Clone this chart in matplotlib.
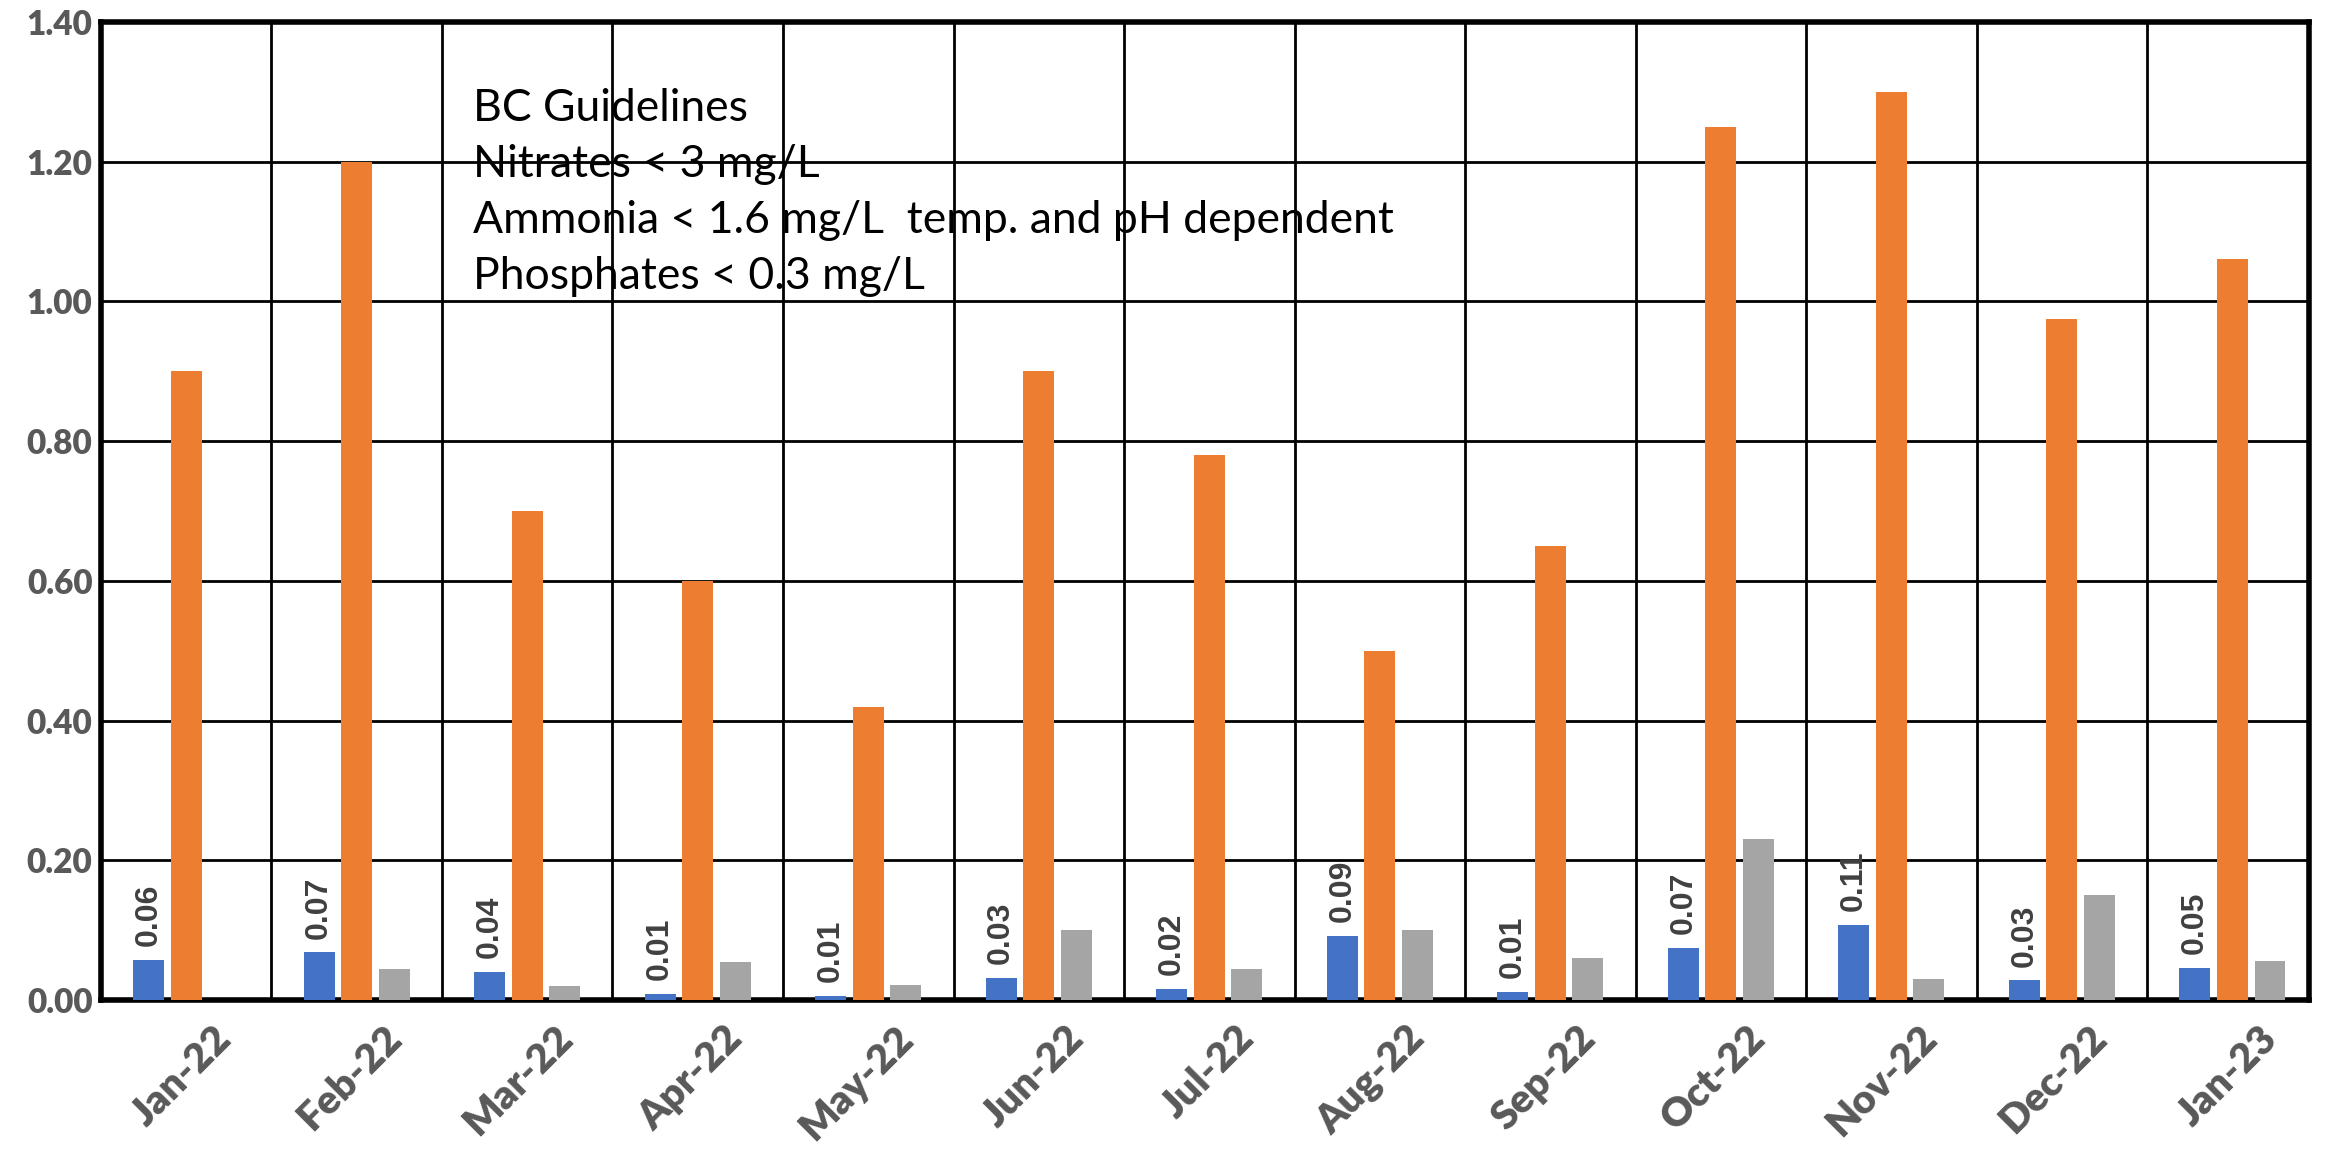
import numpy as np
import matplotlib.pyplot as plt
import matplotlib.transforms as mtrans
from matplotlib.ticker import MultipleLocator, FormatStrFormatter

months = ['Jan-22', 'Feb-22', 'Mar-22', 'Apr-22', 'May-22', 'Jun-22', 'Jul-22',
          'Aug-22', 'Sep-22', 'Oct-22', 'Nov-22', 'Dec-22', 'Jan-23']
nitrates = [0.057, 0.068, 0.040, 0.009, 0.006, 0.032, 0.016, 0.092, 0.012, 0.074, 0.107, 0.028, 0.046]
ammonia = [0.90, 1.20, 0.70, 0.60, 0.42, 0.90, 0.78, 0.50, 0.65, 1.25, 1.30, 0.975, 1.06]
phosphates = [0.0, 0.045, 0.020, 0.055, 0.022, 0.100, 0.045, 0.100, 0.060, 0.230, 0.030, 0.150, 0.056]

guidelines = ('BC Guidelines\n'
              'Nitrates < 3 mg/L\n'
              'Ammonia < 1.6 mg/L  temp. and pH dependent\n'
              'Phosphates < 0.3 mg/L')

fig = plt.figure(figsize=(23.31, 11.49), dpi=100)
ax = fig.add_axes([0.0433, 0.1297, 0.9473, 0.8512])

x = np.arange(len(months))
w = 0.18
off = 0.22
b1 = ax.bar(x - off, nitrates, w, color='#4472C4', zorder=3)
ax.bar(x, ammonia, w, color='#ED7D31', zorder=3)
ax.bar(x + off, phosphates, w, color='#A5A5A5', zorder=3)

ax.bar_label(b1, fmt='%.2f', rotation=90, padding=10, fontsize=23,
             fontweight='bold', color='#404040', family='Liberation Sans')

ax.set_ylim(0, 1.40)
ax.set_xlim(-0.5, 12.45)
ax.yaxis.set_major_locator(MultipleLocator(0.20))
ax.yaxis.set_major_formatter(FormatStrFormatter('%.2f'))
ax.set_xticks(x)
ax.set_xticks(x[:-1] + 0.5, minor=True)
ax.set_xticklabels(months, rotation=45, ha='right', rotation_mode='anchor')

ax.grid(axis='y', which='major', color='black', lw=2, zorder=1)
ax.grid(axis='x', which='minor', color='black', lw=2, zorder=1)
ax.tick_params(which='both', length=0)
ax.tick_params(axis='y', pad=6)
ax.tick_params(axis='x', pad=14)
for lab in ax.get_yticklabels():
    lab.set_fontsize(24)
    lab.set_fontweight('heavy')
    lab.set_color('#595959')
    lab.set_family('Lato')
# shift month labels a little to the right of each tick
shift = mtrans.ScaledTranslation(0.26, 0, fig.dpi_scale_trans)
for lab in ax.get_xticklabels():
    lab.set_fontsize(29)
    lab.set_fontweight('heavy')
    lab.set_color('#595959')
    lab.set_family('Lato')
    lab.set_transform(lab.get_transform() + shift)

for s in ax.spines.values():
    s.set_linewidth(4)
    s.set_color('black')

ax.text(1.68, 1.305, guidelines, fontsize=32, family='Lato', va='top',
        linespacing=1.45, zorder=4)

fig.savefig('out.png', dpi=100)
